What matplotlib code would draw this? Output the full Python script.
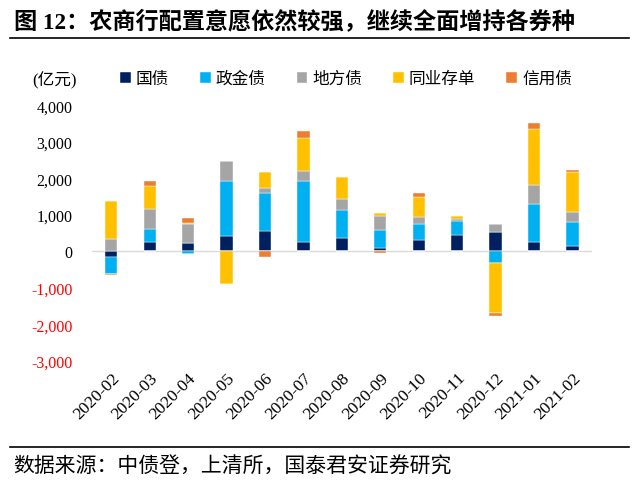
import matplotlib
matplotlib.use('Agg')
import matplotlib.pyplot as plt
import numpy as np
from matplotlib.ticker import FuncFormatter

plt.rcParams['font.family'] = ['Liberation Serif', 'Noto Sans CJK SC']

# ---- data (亿元) ----
months = ['2020-02', '2020-03', '2020-04', '2020-05', '2020-06', '2020-07', '2020-08',
          '2020-09', '2020-10', '2020-11', '2020-12', '2021-01', '2021-02']
series_names = ['国债', '政金债', '地方债', '同业存单', '信用债']
guozhai = [-150, 270, 230, 415, 565, 270, 380, 100, 325, 465, 545, 270, 155]
zhengjin = [-480, 350, -75, 1520, 1030, 1665, 750, 500, 435, 360, -305, 1030, 665]
difang = [340, 555, 530, 535, 140, 260, 305, 360, 185, 55, 195, 520, 260]
tongye = [1055, 620, 30, -890, 445, 925, 610, 83, 535, 90, -1370, 1535, 1110]
xinyong = [-20, 130, 140, 0, -157, 175, 0, -40, 110, 0, -90, 165, 35]
colors = ['#002060', '#00B0F0', '#A5A5A5', '#FFC000', '#ED7D31']

fig = plt.figure(figsize=(6.39, 4.89), dpi=100)
ax = fig.add_axes([0.144, 0.26, 0.782, 0.522])

x = np.arange(len(months))
pos_bottom = np.zeros(len(months))
neg_bottom = np.zeros(len(months))
for name, vals, c in zip(series_names, [guozhai, zhengjin, difang, tongye, xinyong], colors):
    v = np.array(vals, dtype=float)
    pos = np.where(v > 0, v, 0)
    neg = np.where(v < 0, v, 0)
    ax.bar(x, pos, 0.32, bottom=pos_bottom, color=c, label=name,
           edgecolor='white', linewidth=0.3)
    ax.bar(x, neg, 0.32, bottom=neg_bottom, color=c,
           edgecolor='white', linewidth=0.3)
    pos_bottom += pos
    neg_bottom += neg

ax.set_xlim(-0.5, len(months) - 0.5)
ax.set_ylim(-3000, 4000)
ax.set_yticks(np.arange(-3000, 4001, 1000))
ax.yaxis.set_major_formatter(FuncFormatter(lambda v, p: f'{int(v):,}'))
for lbl, v in zip(ax.get_yticklabels(), np.arange(-3000, 4001, 1000)):
    lbl.set_color('#FF0000' if v < 0 else 'black')
ax.tick_params(axis='y', length=0, labelsize=11.5, pad=14)
ax.tick_params(axis='x', length=0, labelsize=12.5, pad=6)
ax.set_xticks(x)
ax.set_xticklabels(months, rotation=45, ha='right', rotation_mode='anchor')
ax.xaxis.set_ticks_position('bottom')
for s in ax.spines.values():
    s.set_visible(False)
ax.axhline(0, color='#D9D9D9', linewidth=1, zorder=0)

fig.text(0.050, 0.836, '(亿元)', fontsize=12, va='center', ha='left')
ax.legend(loc='center left', bbox_to_anchor=(0.188, 0.836), bbox_transform=fig.transFigure,
          ncol=5, frameon=False, fontsize=12, handlelength=0.65, handleheight=0.65,
          handletextpad=0.3, columnspacing=1.85, borderaxespad=0, borderpad=0)

# title and source
fig.text(0.022, 0.955, '图 12：农商行配置意愿依然较强，继续全面增持各券种',
         fontsize=16.7, fontweight='bold', va='center', ha='left')
fig.add_artist(plt.Line2D([0.016, 0.984], [0.921, 0.921], color='black', linewidth=1.2,
                          transform=fig.transFigure))
fig.add_artist(plt.Line2D([0.016, 0.984], [0.084, 0.084], color='black', linewidth=1.2,
                          transform=fig.transFigure))
fig.text(0.020, 0.043, '数据来源：中债登，上清所，国泰君安证券研究',
         fontsize=15, va='center', ha='left')

fig.savefig('out.png', dpi=100)
